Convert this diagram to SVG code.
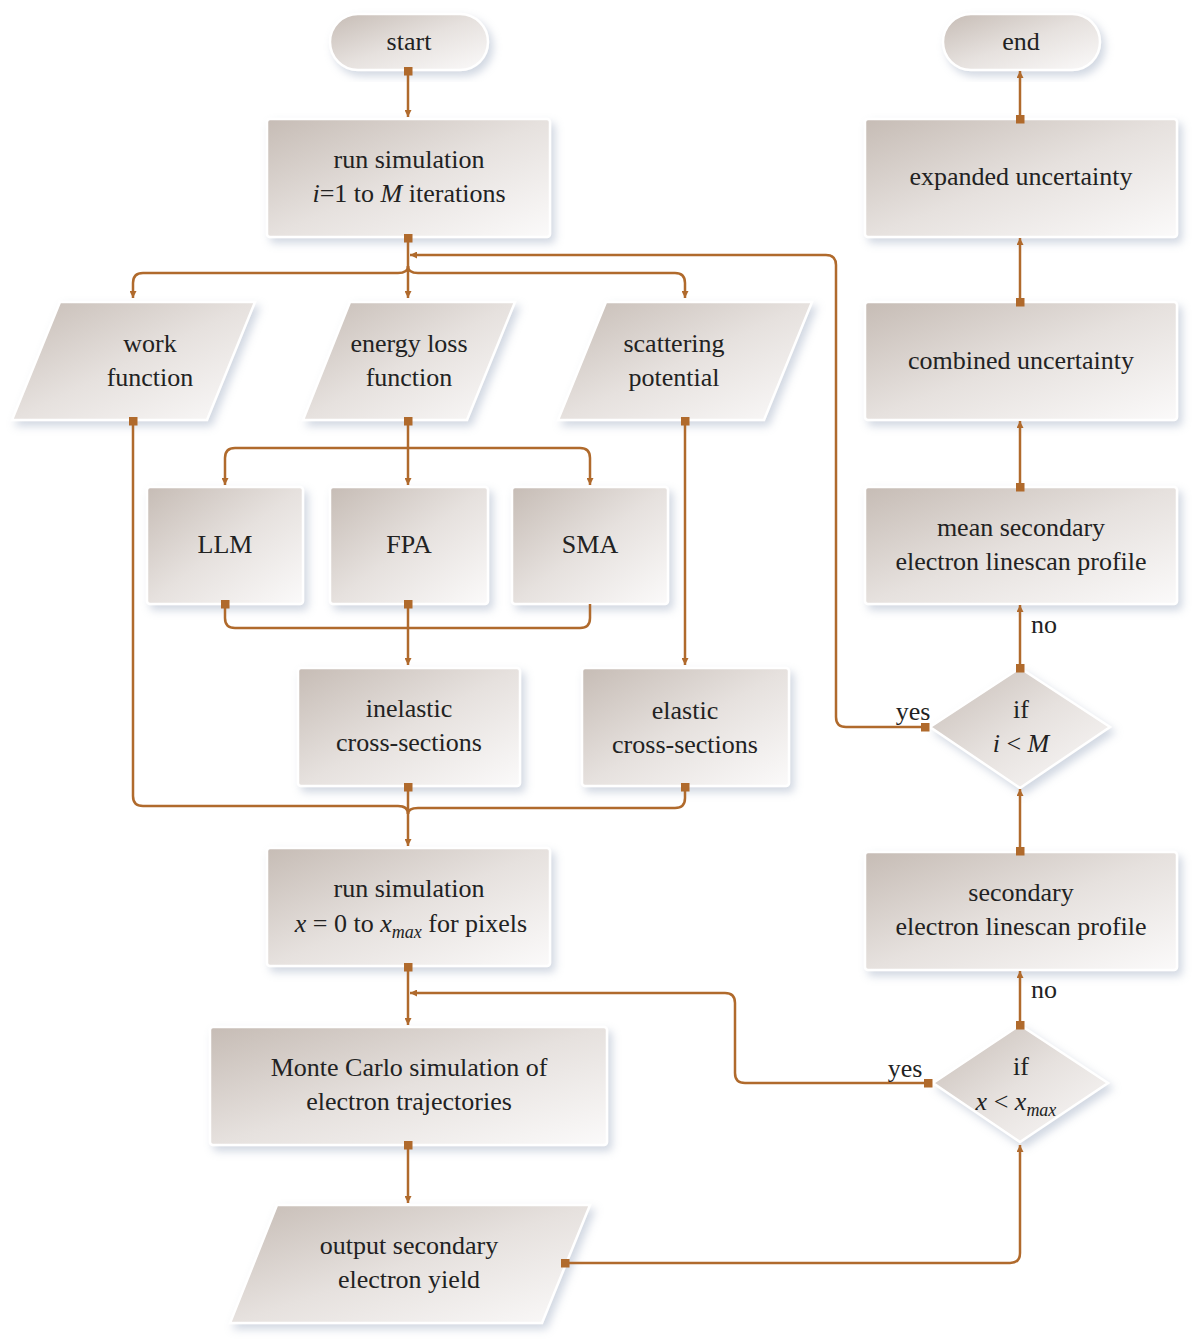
<svg xmlns="http://www.w3.org/2000/svg" width="1200" height="1341" viewBox="0 0 1200 1341">
<defs>
<linearGradient id="g" x1="0" y1="0" x2="1" y2="1">
<stop offset="0" stop-color="#c6bcb5"/><stop offset="0.5" stop-color="#e6e1de"/><stop offset="1" stop-color="#fbfafa"/>
</linearGradient>
<filter id="sh" x="-10%" y="-10%" width="125%" height="130%">
<feDropShadow dx="4" dy="5" stdDeviation="4" flood-color="#9aa8c0" flood-opacity="0.45"/>
</filter>
<marker id="ar" viewBox="0 0 10 10" refX="10" refY="5" markerWidth="7" markerHeight="7" markerUnits="userSpaceOnUse" orient="auto"><path d="M0,0L10,5L0,10z" fill="#b06a2c"/></marker>
<marker id="sq" viewBox="0 0 10 10" refX="5" refY="5" markerWidth="9" markerHeight="9" markerUnits="userSpaceOnUse"><rect width="10" height="10" fill="#b06a2c"/></marker>
</defs>
<style>
.n{fill:url(#g);stroke:#fff;stroke-width:2.5;filter:url(#sh)}
text{font-family:"Liberation Serif",serif;font-size:26px;fill:#222;text-anchor:middle}
.c path{fill:none;stroke:#b06a2c;stroke-width:2.5}
.a{marker-end:url(#ar)}
.s{marker-start:url(#sq)}
</style>
<g id="start"><rect class="n" x="330" y="14" width="158" height="56" rx="28"/><text x="409" y="50">start</text></g>
<g id="run1"><rect class="n" x="267" y="119" width="283" height="118" rx="3"/><text x="409" y="168">run simulation</text><text x="409" y="202"><tspan font-style="italic">i</tspan>=1 to <tspan font-style="italic">M</tspan> iterations</text></g>
<g id="work"><path class="n" d="M60,302H255L207,420H12Z"/><text x="150" y="352">work</text><text x="150" y="386">function</text></g>
<g id="eloss"><path class="n" d="M350,302H515L467,420H303Z"/><text x="409" y="352">energy loss</text><text x="409" y="386">function</text></g>
<g id="scat"><path class="n" d="M606,302H812L764,420H558Z"/><text x="674" y="352">scattering</text><text x="674" y="386">potential</text></g>
<g id="llm"><rect class="n" x="147" y="487" width="156" height="117" rx="3"/><text x="225" y="553">LLM</text></g>
<g id="fpa"><rect class="n" x="330" y="487" width="158" height="117" rx="3"/><text x="409" y="553">FPA</text></g>
<g id="sma"><rect class="n" x="512" y="487" width="156" height="117" rx="3"/><text x="590" y="553">SMA</text></g>
<g id="inel"><rect class="n" x="298" y="668" width="222" height="118" rx="3"/><text x="409" y="717">inelastic</text><text x="409" y="751">cross-sections</text></g>
<g id="elas"><rect class="n" x="582" y="668" width="207" height="118" rx="3"/><text x="685" y="719">elastic</text><text x="685" y="753">cross-sections</text></g>
<g id="run2"><rect class="n" x="267" y="848" width="283" height="118" rx="3"/><text x="409" y="897">run simulation</text><text x="411" y="932"><tspan font-style="italic">x</tspan> = 0 to <tspan font-style="italic">x</tspan><tspan font-style="italic" font-size="18" dy="6">max</tspan><tspan dy="-6"> for pixels</tspan></text></g>
<g id="mc"><rect class="n" x="210" y="1027" width="397" height="118" rx="3"/><text x="409" y="1076">Monte Carlo simulation of</text><text x="409" y="1110">electron trajectories</text></g>
<g id="out"><path class="n" d="M277,1205H590L542,1323H230Z"/><text x="409" y="1254">output secondary</text><text x="409" y="1288">electron yield</text></g>
<g id="end"><rect class="n" x="943" y="14" width="157" height="56" rx="28"/><text x="1021" y="50">end</text></g>
<g id="exp"><rect class="n" x="865" y="119" width="312" height="118" rx="3"/><text x="1021" y="185">expanded uncertainty</text></g>
<g id="comb"><rect class="n" x="865" y="302" width="312" height="118" rx="3"/><text x="1021" y="369">combined uncertainty</text></g>
<g id="mean"><rect class="n" x="865" y="487" width="312" height="117" rx="3"/><text x="1021" y="536">mean secondary</text><text x="1021" y="570">electron linescan profile</text></g>
<g id="d1"><path class="n" d="M930,727L1020,668L1110,727L1020,788Z"/><text x="1021" y="718">if</text><text x="1021" y="752"><tspan font-style="italic">i</tspan> &lt; <tspan font-style="italic">M</tspan></text></g>
<g id="sec"><rect class="n" x="865" y="852" width="312" height="118" rx="3"/><text x="1021" y="901">secondary</text><text x="1021" y="935">electron linescan profile</text></g>
<g id="d2"><path class="n" d="M933,1083L1020,1025L1108,1083L1020,1142Z"/><text x="1021" y="1075">if</text><text x="1016" y="1110"><tspan font-style="italic">x</tspan> &lt; <tspan font-style="italic">x</tspan><tspan font-style="italic" font-size="18" dy="6">max</tspan></text></g>
<g class="c" id="connectors">
<path class="s a" d="M408,71V117"/>
<path class="s a" d="M408,238V298"/>
<path class="a" d="M408,266Q408,273 398,273H143Q133,273 133,283V298"/>
<path class="a" d="M408,266Q408,273 418,273H675Q685,273 685,283V298"/>
<path class="s a" d="M925,727H846Q836,727 836,717V265Q836,255 826,255H410"/>
<path class="s" d="M133,421V796Q133,806 143,806H398Q408,806 408,814"/>
<path class="s a" d="M408,787V846"/>
<path class="s" d="M685,787V798Q685,808 675,808H418Q408,808 408,814"/>
<path class="s a" d="M408,421V485"/>
<path class="a" d="M408,448H235Q225,448 225,458V485"/>
<path class="a" d="M408,448H580Q590,448 590,458V485"/>
<path class="s" d="M225,604V618Q225,628 235,628H580Q590,628 590,618V604"/>
<path class="s a" d="M408,604V665"/>
<path class="s a" d="M685,421V665"/>
<path class="s a" d="M408,967V1025"/>
<path class="s a" d="M928,1083H745Q735,1083 735,1073V1003Q735,993 725,993H410"/>
<path class="s a" d="M408,1145V1203"/>
<path class="s a" d="M565,1263H1010Q1020,1263 1020,1253V1145"/>
<path class="s a" d="M1020,1025V971"/>
<path class="s a" d="M1020,851V789"/>
<path class="s a" d="M1020,668V605"/>
<path class="s a" d="M1020,487V421"/>
<path class="s a" d="M1020,302V238"/>
<path class="s a" d="M1020,119V71"/>
</g>
<text x="1044" y="633">no</text><text x="1044" y="998">no</text>
<text x="913" y="720">yes</text><text x="905" y="1077">yes</text>
</svg>
